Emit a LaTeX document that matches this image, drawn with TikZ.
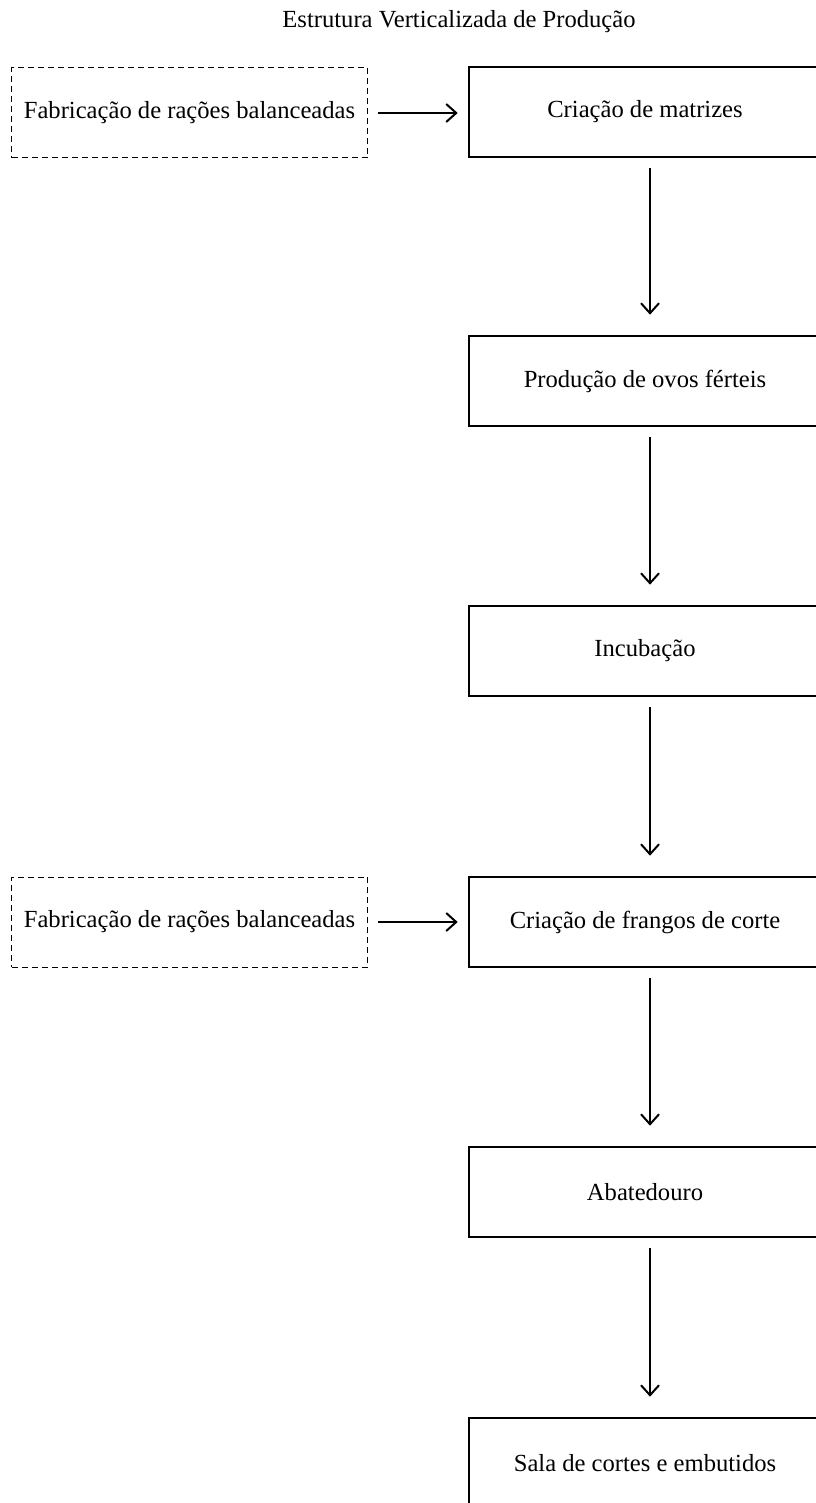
\documentclass[tikz,border=0pt]{standalone}
\usepackage{fontspec}
\setmainfont{Liberation Serif}
\usetikzlibrary{arrows.meta}

\begin{document}
\begin{tikzpicture}[
x=0.5pt, y=-0.5pt,
font=\fontsize{12.3}{15}\selectfont,
>={Straight Barb[length=5pt,width=9pt]},
etapa/.style={draw, line width=1.3pt, minimum width=176pt, minimum height=45pt},
insumo/.style={draw, densely dashed, line width=0.5pt, inner sep=2pt, minimum width=178pt, minimum height=45pt},
seta/.style={->, line width=1pt}
]
\useasboundingbox (0,0) rectangle (815,1503);

\node (titulo) at (459,22) {Estrutura Verticalizada de Produção};

\path 
  (645,112) node[etapa] (matrizes) {Criação de matrizes}
  (645,381) node[etapa] (ovos) {Produção de ovos férteis}
  (645,651) node[etapa] (incubacao) {Incubação}
  (645,922) node[etapa] (frangos) {Criação de frangos de corte}
  (645,1192) node[etapa] (abate) {Abatedouro}
  (645,1463) node[etapa] (cortes) {Sala de cortes e embutidos};

\node[insumo] (racaoA) at (189.5,113) {Fabricação de rações balanceadas};
\node[insumo] (racaoB) at (189.5,922) {Fabricação de rações balanceadas};

\draw[seta, shorten <=5pt, shorten >=5pt] (racaoA.east) -- (matrizes.west |- racaoA.east);
\draw[seta, shorten <=5pt, shorten >=5pt] (racaoB.east) -- (frangos.west |- racaoB.east);

\foreach \De/\Para in {matrizes/ovos, ovos/incubacao, incubacao/frangos, frangos/abate, abate/cortes}
  \draw[seta, shorten <=5pt, shorten >=10pt] ([xshift=2.5pt]\De.south) -- ([xshift=2.5pt]\Para.north);

\end{tikzpicture}
\end{document}
